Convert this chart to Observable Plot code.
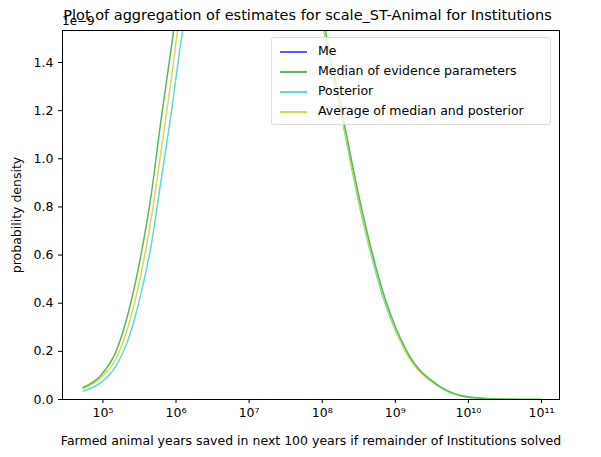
<!DOCTYPE html>
<html><head><meta charset="utf-8">
<script src="https://cdn.jsdelivr.net/npm/d3@7"></script>
<script src="https://cdn.jsdelivr.net/npm/@observablehq/plot@0.6"></script>
<style>
body{margin:0;background:#fff;font-family:"DejaVu Sans",sans-serif}
#wrap{position:relative;width:601px;height:457px}
#title{position:absolute;top:7px;left:0;width:601px;text-align:center;font-size:14.5px;padding-left:14px;box-sizing:border-box}
#off{position:absolute;top:14px;left:62px;font-size:12px}
#legend{position:absolute;left:271px;top:37px;width:278px;border:1px solid #ddd;border-radius:3px;background:rgba(255,255,255,0.8);font-size:12.5px;padding:3px 0}
#legend div{height:20px;line-height:20px;padding-left:8px}
#legend span{display:inline-block;width:27px;height:2px;vertical-align:middle;margin-right:11px}
</style></head><body>
<div id="wrap"><div id="chart"></div>
<div id="title">Plot of aggregation of estimates for scale_ST-Animal for Institutions</div>
<div id="off">1e−9</div>
<div id="legend"></div></div>
<script>
// log10(x) sample points and density (units of 1e-9)
const logX = [4.73, 4.97, 5.18, 5.38, 5.52, 5.66, 5.79, 5.93, 6.05, 6.15, 7.0, 7.9, 8.0, 8.25, 8.52, 8.87, 9.14, 9.62, 10.03, 10.5, 11.0]
const me      = [0.05, 0.10, 0.20, 0.40, 0.60, 0.85, 1.15, 1.45, 1.72, 1.95, 3.5, 1.95, 1.62, 1.21, 0.80, 0.40, 0.20, 0.050, 0.008, 0.001, 0]
const median  = [0.05, 0.10, 0.20, 0.40, 0.60, 0.85, 1.15, 1.45, 1.72, 1.95, 3.5, 1.97, 1.64, 1.23, 0.82, 0.41, 0.21, 0.052, 0.009, 0.001, 0]
const posterior = [0.035, 0.07, 0.14, 0.28, 0.44, 0.64, 0.90, 1.18, 1.45, 1.65, 3.5, 1.93, 1.60, 1.20, 0.79, 0.39, 0.20, 0.049, 0.008, 0.001, 0]
const average = [0.045, 0.09, 0.17, 0.34, 0.52, 0.75, 1.02, 1.32, 1.60, 1.82, 3.5, 1.95, 1.61, 1.21, 0.80, 0.40, 0.20, 0.050, 0.008, 0.001, 0]
const names = ["Me", "Median of evidence parameters", "Posterior", "Average of median and posterior"]
const colors = ["#5b5bf5", "#5cb85c", "#5bdada", "#d8d85a"]
const series = [me, median, posterior, average]
const drawOrder = [2, 3, 1, 0]
const xTicks = [1e5, 1e6, 1e7, 1e8, 1e9, 1e10, 1e11]
const sup = {"5":"⁵","6":"⁶","7":"⁷","8":"⁸","9":"⁹","1":"¹","0":"⁰"}

let rows = []
drawOrder.forEach(i => series[i].forEach((v, j) => rows.push({x: Math.pow(10, logX[j]), y: v, name: names[i]})))

let chart = Plot.plot({
  width: 601,
  height: 457,
  marginLeft: 62,
  marginRight: 42,
  marginTop: 30,
  marginBottom: 58,
  style: {fontFamily: "DejaVu Sans", fontSize: "12.5px", color: "#000"},
  x: {
    type: "log",
    domain: [Math.pow(10, 4.447), Math.pow(10, 11.246)],
    ticks: xTicks,
    tickFormat: d => "10" + String(Math.round(Math.log10(d))).split("").map(c => sup[c]).join(""),
    tickSize: 4,
    label: "Farmed animal years saved in next 100 years if remainder of Institutions solved",
    labelAnchor: "center",
    labelArrow: "none",
    labelOffset: 45
  },
  y: {
    domain: [0, 1.533],
    ticks: [0, 0.2, 0.4, 0.6, 0.8, 1.0, 1.2, 1.4],
    tickFormat: d3.format(".1f"),
    tickSize: 4,
    label: "probability density",
    labelAnchor: "center",
    labelArrow: "none",
    labelOffset: 50
  },
  color: {domain: names, range: colors},
  marks: [
    Plot.line(rows, {x: "x", y: "y", z: "name", stroke: d => d.name === "Me" ? "#1f4f8f" : d.name, strokeOpacity: d => d.name === "Me" ? 0.6 : 1, strokeWidth: 1.5, curve: "monotone-x", clip: true}),
    Plot.frame({stroke: "#000"})
  ]
})
d3.select('#chart').append(() => chart)

d3.select('#legend').selectAll('div').data(names).join('div')
  .html((d, i) => `<span style="background:${colors[i]}"></span>${d}`)
</script>
</body></html>
